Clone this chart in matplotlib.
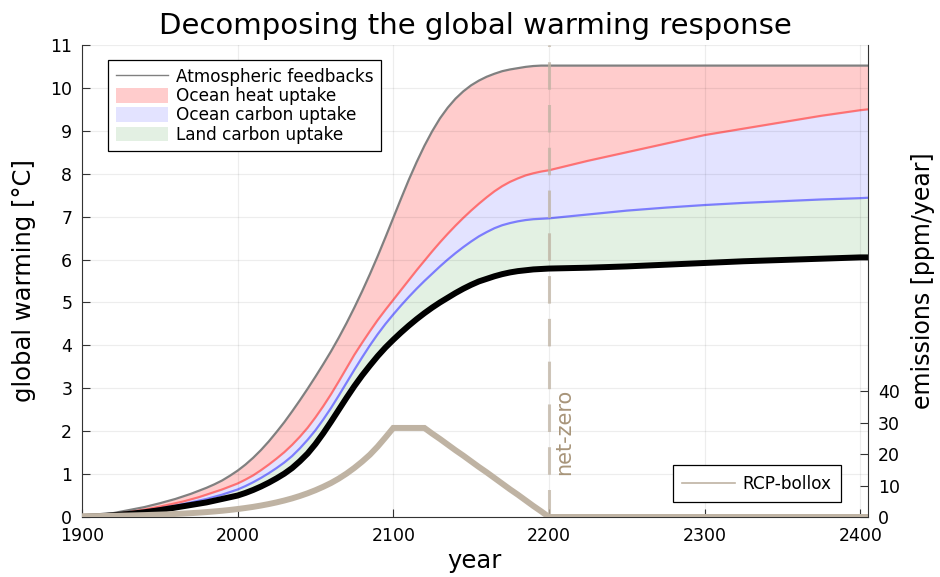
import numpy as np
import matplotlib
matplotlib.use("Agg")
import matplotlib.pyplot as plt
from matplotlib.patches import Patch
from matplotlib.lines import Line2D

# sample years: decades early on, 5-yearly through the transition, coarse after net-zero
years = ([1900, 1910, 1920, 1930, 1940]
         + list(range(1950, 2201, 5))
         + [2225, 2250, 2275, 2300, 2325, 2350, 2375, 2400, 2405])

# warming with all feedbacks (top of the stack) [°C]
atmos = [0.0, 0.04, 0.09, 0.16, 0.23,
         0.32, 0.37, 0.42, 0.48, 0.54, 0.61, 0.68, 0.76, 0.85, 0.96,
         1.08, 1.22, 1.38, 1.56, 1.76, 1.98, 2.21, 2.46, 2.72, 2.99,
         3.27, 3.56, 3.86, 4.18, 4.52, 4.88, 5.26, 5.66, 6.08, 6.52,
         6.97, 7.42, 7.86, 8.27, 8.65, 8.99, 9.29, 9.54, 9.75, 9.92,
         10.06, 10.17, 10.26, 10.33, 10.39, 10.43, 10.46, 10.49, 10.51, 10.52,
         10.52,
         10.52, 10.52, 10.52, 10.52, 10.52, 10.52, 10.52, 10.52, 10.52]
# after ocean heat uptake
ocean_heat = [0.0, 0.03, 0.06, 0.11, 0.17,
              0.24, 0.28, 0.32, 0.36, 0.41, 0.46, 0.52, 0.58, 0.64, 0.71,
              0.78, 0.87, 0.97, 1.09, 1.22, 1.36, 1.51, 1.68, 1.87, 2.08,
              2.32, 2.58, 2.86, 3.16, 3.47, 3.78, 4.06, 4.33, 4.59, 4.83,
              5.06, 5.29, 5.52, 5.75, 5.97, 6.19, 6.40, 6.60, 6.79, 6.97,
              7.14, 7.30, 7.45, 7.59, 7.71, 7.81, 7.89, 7.96, 8.01, 8.05,
              8.08,
              8.30, 8.50, 8.70, 8.90, 9.05, 9.20, 9.35, 9.48, 9.50]
# after ocean carbon uptake
ocean_carbon = [0.0, 0.02, 0.05, 0.09, 0.14,
                0.20, 0.23, 0.26, 0.30, 0.34, 0.38, 0.42, 0.47, 0.52, 0.58,
                0.64, 0.72, 0.81, 0.91, 1.02, 1.14, 1.27, 1.42, 1.60, 1.80,
                2.02, 2.27, 2.54, 2.83, 3.13, 3.43, 3.72, 4.00, 4.26, 4.50,
                4.72, 4.93, 5.13, 5.32, 5.50, 5.67, 5.84, 6.00, 6.15, 6.29,
                6.42, 6.54, 6.64, 6.73, 6.80, 6.85, 6.89, 6.92, 6.94, 6.95,
                6.96,
                7.05, 7.14, 7.21, 7.27, 7.32, 7.36, 7.40, 7.43, 7.44]
# actual warming (after land carbon uptake)
warming = [0.0, 0.02, 0.04, 0.07, 0.11,
           0.16, 0.19, 0.22, 0.25, 0.28, 0.31, 0.34, 0.38, 0.42, 0.46,
           0.50, 0.56, 0.63, 0.71, 0.80, 0.90, 1.01, 1.14, 1.30, 1.48,
           1.70, 1.95, 2.22, 2.50, 2.78, 3.05, 3.30, 3.53, 3.75, 3.95,
           4.13, 4.30, 4.46, 4.61, 4.75, 4.88, 5.00, 5.11, 5.22, 5.32,
           5.41, 5.49, 5.55, 5.61, 5.66, 5.70, 5.73, 5.75, 5.77, 5.78,
           5.79,
           5.81, 5.84, 5.88, 5.92, 5.96, 5.99, 6.02, 6.05, 6.05]
# emission scenario [ppm/year]
emissions = [0.23, 0.29, 0.37, 0.47, 0.60,
             0.76, 0.85, 0.96, 1.08, 1.22, 1.38, 1.56, 1.76, 1.98, 2.24,
             2.53, 2.86, 3.22, 3.64, 4.11, 4.64, 5.24, 5.91, 6.68, 7.54,
             8.51, 9.60, 10.8, 12.2, 13.8, 15.6, 17.6, 19.8, 22.4, 25.3,
             28.3, 28.3, 28.3, 28.3, 28.3, 26.5, 24.8, 23.0, 21.2, 19.5,
             17.7, 15.9, 14.2, 12.4, 10.6, 8.8, 7.1, 5.3, 3.5, 1.8,
             0.0,
             0.0, 0.0, 0.0, 0.0, 0.0, 0.0, 0.0, 0.0, 0.0]

net_zero_year = 2200
tan = (0.75, 0.70, 0.64)
ink = '#333333'

fig = plt.figure(figsize=(9.4, 5.77), dpi=100)
ax = fig.add_axes([0.0872, 0.104, 0.8362, 0.818])

# stacked fills
ax.fill_between(years, ocean_heat, atmos, color=(1, 0, 0), alpha=0.2, lw=0)
ax.fill_between(years, ocean_carbon, ocean_heat, color=(0, 0, 1), alpha=0.11, lw=0)
ax.fill_between(years, warming, ocean_carbon, color=(0, 0.5, 0), alpha=0.11, lw=0)
ax.plot(years, atmos, color='gray', lw=1.6)
ax.plot(years, ocean_heat, color=(1, 0, 0), alpha=0.45, lw=1.6)
ax.plot(years, ocean_carbon, color=(0, 0, 1), alpha=0.45, lw=1.6)
ax.plot(years, warming, color='black', lw=4.3, solid_capstyle='butt')

ax.set_xlim(1900, 2405)
ax.set_ylim(0, 11)
ax.set_xticks([1900, 2000, 2100, 2200, 2300, 2400])
ax.set_yticks(range(0, 12))
ax.grid(True, color='black', alpha=0.07, lw=0.9)
ax.tick_params(direction='in', length=6, labelsize=12.5, color=ink)
ax.tick_params(axis='x', pad=7)
ax.tick_params(axis='y', pad=7)
for s in ['top', 'right']:
    ax.spines[s].set_visible(False)
ax.spines['left'].set_color(ink)
ax.spines['bottom'].set_color(ink)
ax.set_xlabel('year', fontsize=17.5, labelpad=3)
ax.set_ylabel('global warming [°C]', fontsize=17.5, labelpad=10)
ax.set_title('Decomposing the global warming response', fontsize=21, pad=8)

handles = [Line2D([0], [0], color='gray', lw=1),
           Patch(facecolor=(1, 0.8, 0.8)),
           Patch(facecolor=(0.89, 0.89, 1.0)),
           Patch(facecolor=(0.89, 0.94, 0.89))]
labels = ['Atmospheric feedbacks', 'Ocean heat uptake',
          'Ocean carbon uptake', 'Land carbon uptake']
leg = ax.legend(handles, labels, loc='upper left', bbox_to_anchor=(0.033, 0.968),
                borderaxespad=0, fontsize=12.2, frameon=True, fancybox=False,
                edgecolor='black', framealpha=1, labelspacing=0.08,
                handlelength=3.1, handleheight=0.95, borderpad=0.45,
                handletextpad=0.45)
leg.get_frame().set_linewidth(0.9)

# emissions on the twin axis
ax2 = ax.twinx()
ax2.plot(years, emissions, color=tan, lw=4.3, solid_joinstyle='miter')
ax2.axvline(net_zero_year, color=tan, lw=2.2, alpha=0.75, linestyle=(0, (9, 5)))
ax2.text(net_zero_year + 10, 13.5, 'net-zero', rotation=90, color='#a8957a',
         fontsize=15, ha='center', va='bottom')
ax2.set_ylim(0, 150)
ax2.set_yticks([0, 10, 20, 30, 40])
ax2.tick_params(direction='in', length=6, labelsize=12.5, color=ink, pad=7)
for s in ['top', 'left', 'bottom']:
    ax2.spines[s].set_visible(False)
ax2.spines['right'].set_color(ink)
ax2.set_ylabel('emissions [ppm/year]', fontsize=17, labelpad=8)
leg2 = ax2.legend([Line2D([0], [0], color=tan, lw=1.2)], ['RCP-bollox'],
                  loc='lower right', bbox_to_anchor=(0.9656, 0.032),
                  borderaxespad=0, fontsize=12.2, frameon=True, fancybox=False,
                  edgecolor='black', framealpha=1, handlelength=3.1,
                  borderpad=0.55, handletextpad=0.45)
leg2.get_frame().set_linewidth(0.9)

fig.savefig('out.png', dpi=100)
